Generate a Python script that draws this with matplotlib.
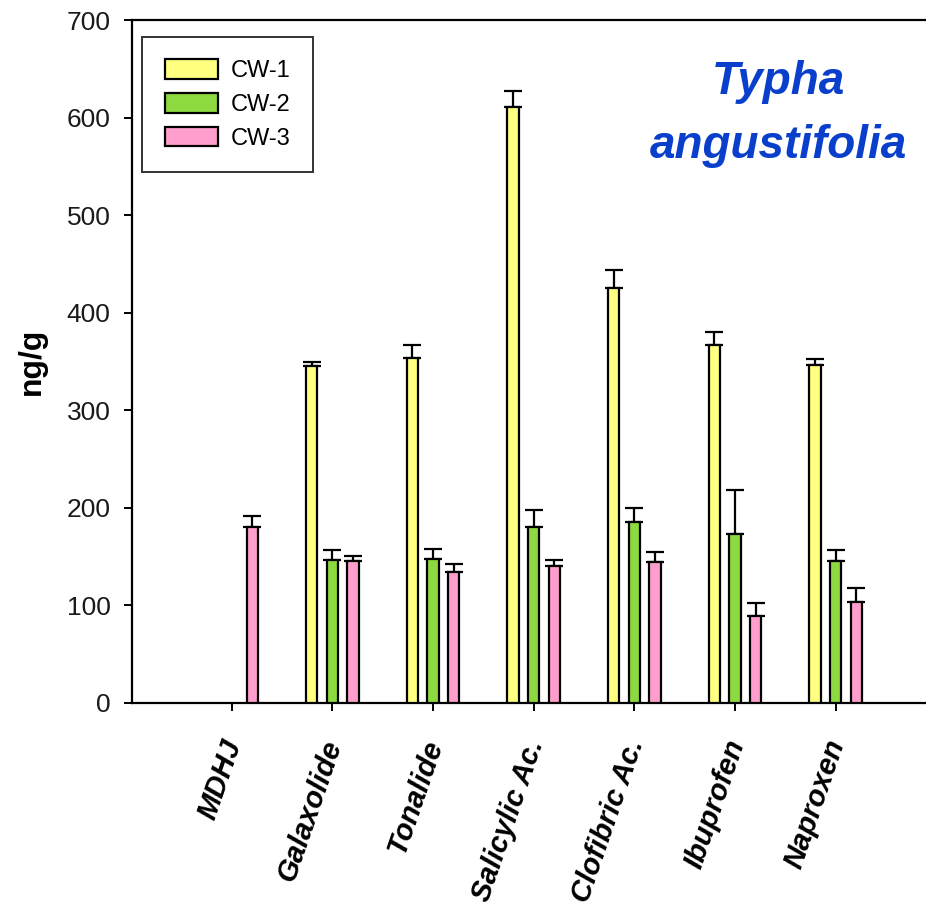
import matplotlib
matplotlib.use("Agg")
import matplotlib.pyplot as plt
import matplotlib.transforms as mtransforms
import numpy as np

plt.rcParams['font.family'] = ['Liberation Sans', 'DejaVu Sans']

# Concentrations (ng/g) in Typha angustifolia for the three constructed wetlands
compounds = ["MDHJ", "Galaxolide", "Tonalide", "Salicylic Ac.",
             "Clofibric Ac.", "Ibuprofen", "Naproxen"]
series = ["CW-1", "CW-2", "CW-3"]
cw1 = [np.nan, 345, 354, 611, 425, 367, 346]
cw1_err = [0, 5, 13, 16, 19, 13, 7]
cw2 = [np.nan, 147, 148, 180, 185, 173, 146]
cw2_err = [0, 10, 10, 18, 15, 45, 11]
cw3 = [180, 146, 134, 140, 144, 89, 104]
cw3_err = [12, 5, 8, 7, 11, 14, 14]
yticks = [0, 100, 200, 300, 400, 500, 600, 700]

colors = ["#ffff80", "#8cd940", "#ff9ecc"]
offsets = [-0.205, 0.0, 0.205]

W, H, DPI = 926, 908, 100
fig = plt.figure(figsize=(W / DPI, H / DPI), dpi=DPI)
ax = fig.add_axes([132 / W, (H - 703) / H, (W - 132) / W + 0.01, 683 / H])

x = np.arange(len(compounds))
for vals, errs, col, off, name in zip([cw1, cw2, cw3], [cw1_err, cw2_err, cw3_err],
                                      colors, offsets, series):
    vals = np.array(vals, dtype=float)
    errs = np.array(errs, dtype=float)
    ax.bar(x + off, vals, width=0.112, color=col, edgecolor="black",
           linewidth=1.6, label=name, zorder=3)
    ok = ~np.isnan(vals)
    ax.errorbar(x[ok] + off, vals[ok],
                yerr=[np.zeros(ok.sum()), errs[ok]],
                fmt="none", ecolor="black", elinewidth=1.6,
                capsize=6.5, capthick=1.6, zorder=2)

ax.set_xlim(-0.99, 6.99)
ax.set_ylim(0, 700)
ax.set_yticks(yticks)
ax.set_yticklabels([str(v) for v in yticks], fontsize=19, color="#1a1a1a")
ax.set_xticks(x)
ax.set_xticklabels([])

for side in ["left", "bottom", "top"]:
    ax.spines[side].set_linewidth(1.6)
ax.spines["right"].set_visible(False)
ax.tick_params(axis="both", direction="out", length=6, width=1.4, pad=9.5)

# rotated compound names under each tick
base = ax.get_xaxis_transform()
for xi, name in zip(x, compounds):
    tr = mtransforms.offset_copy(base, fig=fig, x=15, y=-42, units="dots")
    ax.text(xi, 0, name, transform=tr, rotation=71, rotation_mode="anchor",
            ha="right", va="bottom", fontsize=21, fontweight="bold",
            fontstyle="italic", color="black")

ax.set_ylabel("ng/g", fontsize=23, fontweight="bold", labelpad=14)

# legend with a framed box
leg = ax.legend(loc="upper left", bbox_to_anchor=(10 / 794, 1 - 17 / 683),
                fontsize=17, frameon=True, fancybox=False, edgecolor="black",
                handlelength=2.25, handleheight=0.9, handletextpad=0.55,
                labelspacing=0.45, borderpad=0.95, borderaxespad=0.0)
leg.get_frame().set_linewidth(1.4)
for p in leg.get_patches():
    p.set_linewidth(1.6)

ax.text(0.805, 0.862, "Typha\nangustifolia", transform=ax.transAxes,
        ha="center", va="center", multialignment="center", linespacing=1.6,
        fontsize=33, fontweight="bold", fontstyle="italic", color="#0a3fcc")

fig.savefig("out.png", dpi=DPI)
